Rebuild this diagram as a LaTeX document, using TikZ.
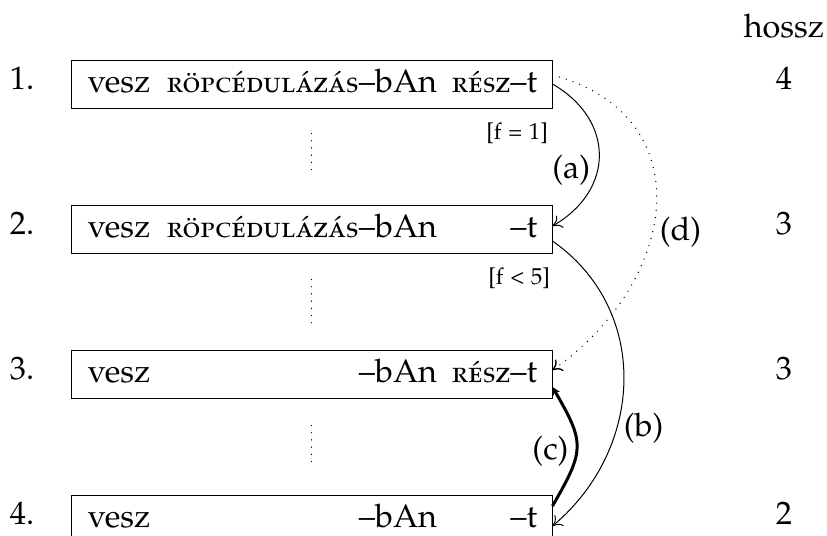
\documentclass[tikz,border=0pt]{standalone}
\usepackage[T1]{fontenc}
\usepackage[sc]{mathpazo}
\usetikzlibrary{positioning,arrows.meta}
\tikzset{szo/.style={draw,line width=0.5pt,inner sep=0pt,minimum width=240.5pt,minimum height=24pt},
	 bal/.style={inner sep=0pt,anchor=base west},
	 jobb/.style={inner sep=0pt,anchor=base east},
	 sorsz/.style={inner sep=0pt,text height=0.75em,text depth=0.25em},
	 feltetel/.style={inner sep=0pt,font=\fontsize{11.5}{13}\selectfont},
	 lep/.style={line width=0.5pt,-{To[length=4.5pt,width=7pt]}},
	 pontvonal/.style={line width=0.7pt,line cap=round,dash pattern=on 0pt off 3.6pt},
	 vastag/.style={line width=1.5pt,-{Stealth[length=4pt,width=4pt]}},
	 node distance = 48pt
	 }
\newcommand{\kisk}[1]{{\fontsize{14.6}{17}\selectfont\scshape #1}}

\begin{document}
\begin{tikzpicture}[x=0.5pt,y=-0.5pt,font=\fontsize{16.2}{19}\selectfont] % levezetes
        \useasboundingbox (0,0) rectangle (827,536);
        \node[szo] (b1) at (311.5,84) {};
        \node[szo] (b2) [below=of b1] {};
        \node[szo] (b3) [below=of b2] {};
        \node[szo] (b4) [below=of b3] {};
        % a dobozok szovege
        \node[bal] (v1) at ([xshift=8.5pt,yshift=-4pt]b1.west) {vesz};
        \node[bal] (r1) at ([xshift=48pt,yshift=-4pt]b1.west) {\kisk{r\"opc\'edul\'az\'as}};
        \node[jobb] (n1b) at ([xshift=-57.5pt,yshift=-4pt]b1.east) {--bAn};
        \node[jobb] (t1) at ([xshift=-7.5pt,yshift=-4pt]b1.east) {\kisk{r\'esz}--t};
        \node[bal] (v2) at ([xshift=8.5pt,yshift=-4pt]b2.west) {vesz};
        \node[bal] (r2) at ([xshift=48pt,yshift=-4pt]b2.west) {\kisk{r\"opc\'edul\'az\'as}};
        \node[jobb] (n2b) at ([xshift=-57.5pt,yshift=-4pt]b2.east) {--bAn};
        \node[jobb] (t2) at ([xshift=-7.5pt,yshift=-4pt]b2.east) {--t};
        \node[bal] (v3) at ([xshift=8.5pt,yshift=-4pt]b3.west) {vesz};
        \node[jobb] (n3b) at ([xshift=-57.5pt,yshift=-4pt]b3.east) {--bAn};
        \node[jobb] (t3) at ([xshift=-7.5pt,yshift=-4pt]b3.east) {\kisk{r\'esz}--t};
        \node[bal] (v4) at ([xshift=8.5pt,yshift=-4pt]b4.west) {vesz};
        \node[jobb] (n4b) at ([xshift=-57.5pt,yshift=-4pt]b4.east) {--bAn};
        \node[jobb] (t4) at ([xshift=-7.5pt,yshift=-4pt]b4.east) {--t};
        % sorszamok es hosszak
        \node[sorsz] (n1) [left=18pt of b1] {1.};
        \node[sorsz] (n2) [left=18pt of b2] {2.};
        \node[sorsz] (n3) [left=18pt of b3] {3.};
        \node[sorsz] (n4) [left=18pt of b4] {4.};
        \node (hossz) at (784,26) {hossz};
        \node[sorsz] (h1) at (hossz |- b1) {4};
        \node[sorsz] (h2) at (hossz |- b2) {3};
        \node[sorsz] (h3) at (hossz |- b3) {3};
        \node[sorsz] (h4) at (hossz |- b4) {2};
        \node[feltetel,anchor=north east] (f1) at ([xshift=-2pt,yshift=-7pt]b1.south east) {[f = 1]};
        \node[feltetel,anchor=north east] (f2) at ([xshift=-1pt,yshift=-7pt]b2.south east) {[f < 5]};
	\draw[pontvonal,shorten <=12.5pt,shorten >=14.5pt] (b1) -- (b2);
	\draw[pontvonal,shorten <=13pt,shorten >=11pt] (b2) -- (b3);
	\draw[pontvonal,shorten <=13.5pt,shorten >=14.5pt] (b3) -- (b4);
	\draw[lep] (b1.east) to[out=-30,in=30,looseness=1.3] node[left,pos=0.6] (la) {(a)} ([yshift=1.5pt]b2.east);
	\draw[lep] ([yshift=-6pt]b2.east) to[out=-35,in=40,looseness=1.08] node[right,pos=0.65] (lb) {(b)} ([yshift=-3.5pt]b4.east);
	\draw[vastag] ([yshift=6.5pt]b4.east) to[out=60,in=-60,looseness=1.4] node[left,pos=0.45] (lc) {(c)} ([yshift=-6.5pt]b3.east);
	\draw[lep,pontvonal] ([yshift=4.5pt]b1.east) to[out=-15,in=35,looseness=1.35] node[right,pos=0.58] (ld) {(d)} ([yshift=2pt]b3.east);
     \end{tikzpicture}
\end{document}
